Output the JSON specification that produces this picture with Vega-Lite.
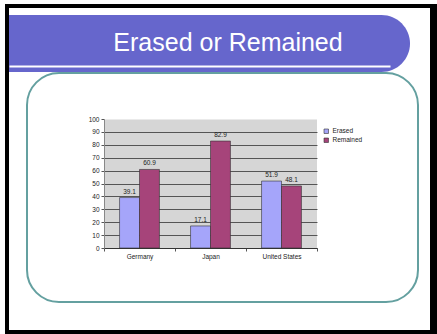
{
  "$schema": "https://vega.github.io/schema/vega-lite/v6.json",
  "background": "white",
  "padding": {"left": 5, "top": 4, "right": 0, "bottom": 0},
  "config": {"font": "Liberation Sans"},
  "spacing": 0,
  "hconcat": [
    {"width": 4, "height": 330, "view": {"stroke": null, "fill": "black"}, "data": {"values": []}, "mark": "rect", "encoding": {}},
    {
      "spacing": 7,
      "vconcat": [
        {"width": 421, "height": 4, "view": {"stroke": null, "fill": "black"}, "data": {"values": []}, "mark": "rect", "encoding": {}},
        {
          "spacing": 27,
          "vconcat": [
            {
              "spacing": 0,
              "vconcat": [
                {
                  "width": 401,
                  "height": 57,
                  "view": {"stroke": null},
                  "data": {"values": [{"title": "Erased or Remained"}]},
                  "layer": [
                    {"mark": {"type": "rect", "color": "#6666CC", "cornerRadiusTopRight": 29, "cornerRadiusBottomRight": 29}, "encoding": {}},
                    {
                      "mark": {"type": "text", "color": "white", "fontSize": 25, "dx": 28.5, "dy": -1},
                      "encoding": {
                        "text": {"field": "title"},
                        "x": {"field": "title", "type": "nominal", "scale": {"range": [0, 381]}, "axis": {"title": null, "orient": "bottom", "offset": -6, "labels": false, "ticks": false, "domainColor": "white", "domainWidth": 2, "zindex": 1}}
                      }
                    }
                  ]
                },
                {
                  "spacing": 0,
                  "hconcat": [
                    {"width": 17, "height": 1, "view": {"stroke": null}, "data": {"values": []}, "mark": "rect", "encoding": {}},
                    {
                      "width": 391,
                      "height": 229,
                      "view": {"stroke": "#64A0A0", "strokeWidth": 2, "cornerRadius": 32, "fill": null},
                      "data": {"values": [
                        {"country": "Germany", "series": "Erased", "value": 39.1},
                        {"country": "Germany", "series": "Remained", "value": 60.9},
                        {"country": "Japan", "series": "Erased", "value": 17.1},
                        {"country": "Japan", "series": "Remained", "value": 82.9},
                        {"country": "United States", "series": "Erased", "value": 51.9},
                        {"country": "United States", "series": "Remained", "value": 48.1}
                      ]},
                      "resolve": {"axis": {"x": "independent"}},
                      "encoding": {
                        "xOffset": {"field": "series", "type": "nominal", "scale": {"paddingInner": 0, "paddingOuter": 0.78}},
                        "y": {
                          "field": "value", "type": "quantitative",
                          "scale": {"domain": [0, 100], "nice": false, "range": [175, 46]},
                          "axis": {
                            "title": null, "offset": -77, "values": [0, 10, 20, 30, 40, 50, 60, 70, 80, 90, 100],
                            "labelFontSize": 6.5, "labelColor": "#222", "grid": true,
                            "gridColor": {"condition": {"test": "datum.value === 100", "value": "transparent"}, "value": "#333"},
                            "gridWidth": 0.8,
                            "tickSize": 3, "tickColor": "#555", "domainColor": "#888", "labelPadding": 2
                          }
                        }
                      },
                      "layer": [
                        {
                          "mark": {"type": "bar", "stroke": "#333", "strokeWidth": 0.6},
                          "encoding": {
                            "x": {
                              "field": "country", "type": "nominal", "sort": null,
                              "scale": {"range": [77, 290], "paddingInner": 0, "paddingOuter": 0},
                              "axis": {"title": null, "orient": "bottom", "offset": -54, "labelAngle": 0, "labelFontSize": 6.5, "labelColor": "#222", "tickBand": "extent", "tickSize": 3, "tickColor": "#555", "labelPadding": 2, "domainColor": "#333", "grid": false}
                            },
                            "color": {
                              "field": "series", "type": "nominal",
                              "scale": {"domain": ["Erased", "Remained"], "range": ["#A5A5FA", "#A6447A"]},
                              "legend": {"title": null, "orient": "none", "legendX": 318, "legendY": 124, "labelFontSize": 6.5, "labelColor": "#222", "symbolType": "square", "symbolSize": 20, "symbolStrokeColor": "#333", "symbolStrokeWidth": 0.6, "rowPadding": 1, "labelOffset": 3}
                            }
                          }
                        },
                        {
                          "mark": {"type": "text", "baseline": "bottom", "dy": -3, "fontSize": 6.5, "color": "#222"},
                          "encoding": {
                            "x": {
                              "field": "country", "type": "nominal", "sort": null,
                              "axis": {"title": null, "orient": "top", "labels": false, "ticks": false, "domain": false, "grid": true, "gridColor": "#D6D6D6", "gridWidth": 71}
                            },
                            "text": {"field": "value", "type": "quantitative", "format": ".1f"}
                          }
                        }
                      ]
                    }
                  ]
                }
              ]
            },
            {"width": 421, "height": 4, "view": {"stroke": null, "fill": "black"}, "data": {"values": []}, "mark": "rect", "encoding": {}}
          ]
        }
      ]
    },
    {"width": 7, "height": 330, "view": {"stroke": null, "fill": "black"}, "data": {"values": []}, "mark": "rect", "encoding": {}}
  ]
}
